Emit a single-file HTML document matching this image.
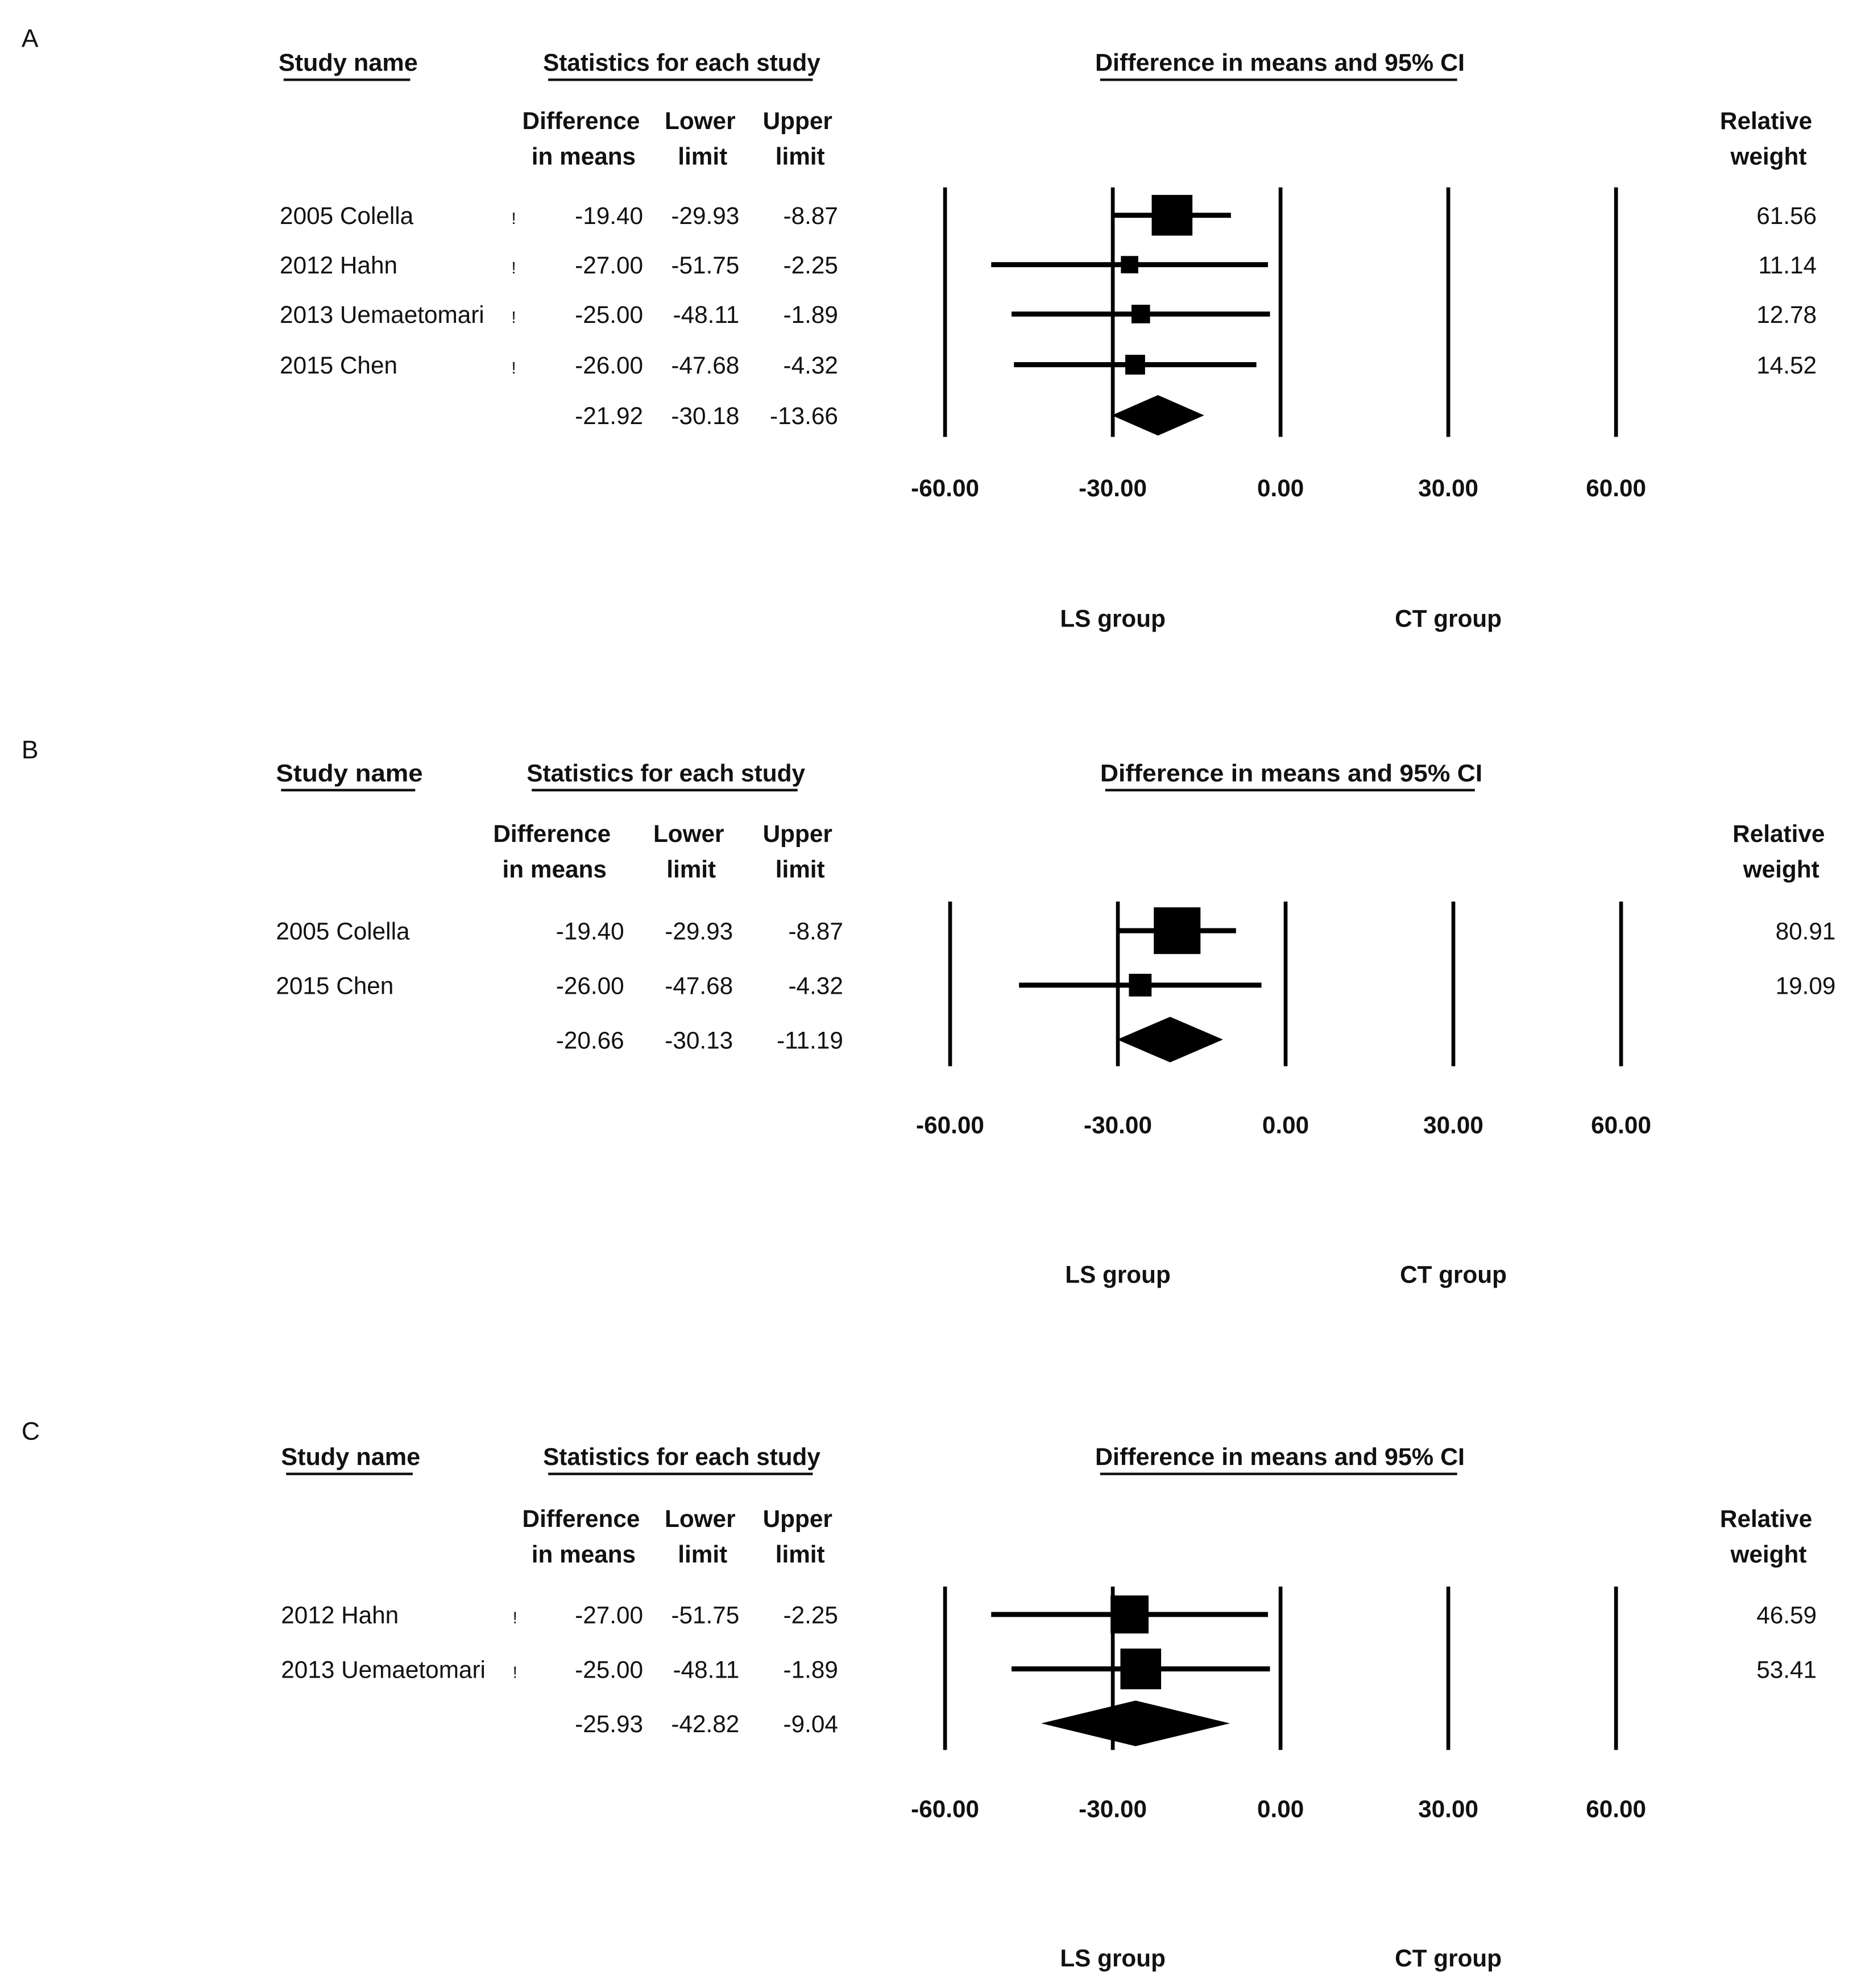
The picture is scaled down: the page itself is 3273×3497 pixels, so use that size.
<!DOCTYPE html>
<html><head><meta charset="utf-8"><style>
html,body{margin:0;padding:0;background:#fff;}
svg{display:block;}
text{font-family:"Liberation Sans",sans-serif;fill:#111;}
.b{font-weight:bold;}
</style></head><body>
<svg id="chart" width="3273" height="3497" viewBox="0 0 1470 1570" preserveAspectRatio="none" xmlns="http://www.w3.org/2000/svg"></svg>
<script>
// ---- Data ----
const panelLabels = ["A","B","C"];
const namesA = ["2005 Colella","2012 Hahn","2013 Uemaetomari","2015 Chen"];
const diffA = [-19.40,-27.00,-25.00,-26.00];
const lowerA = [-29.93,-51.75,-48.11,-47.68];
const upperA = [-8.87,-2.25,-1.89,-4.32];
const weightA = [61.56,11.14,12.78,14.52];
const summaryA = [-21.92,-30.18,-13.66];

const namesB = ["2005 Colella","2015 Chen"];
const diffB = [-19.40,-26.00];
const lowerB = [-29.93,-47.68];
const upperB = [-8.87,-4.32];
const weightB = [80.91,19.09];
const summaryB = [-20.66,-30.13,-11.19];

const namesC = ["2012 Hahn","2013 Uemaetomari"];
const diffC = [-27.00,-25.00];
const lowerC = [-51.75,-48.11];
const upperC = [-2.25,-1.89];
const weightC = [46.59,53.41];
const summaryC = [-25.93,-42.82,-9.04];

const tickValues = [-60,-30,0,30,60];
const tickLabels = ["-60.00","-30.00","0.00","30.00","60.00"];

// ---- Layout per panel (display units) ----
const layouts = [
 {letterY:37, headY:56, hdr1:102, hdr2:130, rowYs:[177,216,255,295,335], lineTop:148,lineBot:345, tickY:392, groupY:495,
  nameX:221, bang:true, diffR:508, lowR:584, upR:662, wR:1435, relX:1395, diffHx:459, lowHx:553, upHx:630,
  x0:1011.5, xs:132.5, studyX:[220,330], statX:[429,648], ciX:[865,1157], sq:4.1, dh:16},
 {letterY:599, headY:617, hdr1:665, hdr2:693, rowYs:[742,785,828], lineTop:712,lineBot:842, tickY:895, groupY:1013,
  nameX:218, bang:false, diffR:493, lowR:579, upR:666, wR:1450, relX:1405, diffHx:436, lowHx:544, upHx:630,
  x0:1015.5, xs:132.5, studyX:[218,334], statX:[416,636], ciX:[869,1171], sq:4.1, dh:18},
 {letterY:1137, headY:1157, hdr1:1206, hdr2:1234, rowYs:[1282,1325,1368], lineTop:1253,lineBot:1382, tickY:1435, groupY:1553,
  nameX:222, bang:true, diffR:508, lowR:584, upR:662, wR:1435, relX:1395, diffHx:459, lowHx:553, upHx:630,
  x0:1011.5, xs:132.5, studyX:[222,332], statX:[429,648], ciX:[865,1157], sq:4.4, dh:18}
];
const panels = [
 {names:namesA,diff:diffA,lower:lowerA,upper:upperA,weight:weightA,summary:summaryA},
 {names:namesB,diff:diffB,lower:lowerB,upper:upperB,weight:weightB,summary:summaryB},
 {names:namesC,diff:diffC,lower:lowerC,upper:upperC,weight:weightC,summary:summaryC}
];

const svg = document.getElementById('chart');
const NS = "http://www.w3.org/2000/svg";
function mk(tag, attrs, txt){
  const e = document.createElementNS(NS, tag);
  for (const k in attrs) e.setAttribute(k, attrs[k]);
  if (txt !== undefined) e.textContent = txt;
  svg.appendChild(e);
  return e;
}
function fmt(v){ return v.toFixed(2); }

panels.forEach((p, pi) => {
  const L = layouts[pi];
  const xScale = v => L.x0 + v / 30 * L.xs;
  let e;
  e = mk('text', {x:17, y:L.letterY, 'font-size':20}, panelLabels[pi]);
  
  

  const heads = [["Study name",L.studyX],["Statistics for each study",L.statX],["Difference in means and 95% CI",L.ciX]];
  heads.forEach(h => {
    e = mk('text', {x:(h[1][0]+h[1][1])/2, y:L.headY, 'font-size':19, 'text-anchor':'middle', class:'b', textLength:h[1][1]-h[1][0], lengthAdjust:'spacingAndGlyphs'}, h[0]);
    
    
    e = mk('line', {x1:h[1][0]+4, x2:h[1][1]-6, y1:L.headY+7, y2:L.headY+7, stroke:'#111', 'stroke-width':2});
    
    
  });
  const hdrs = [["Difference","in means",L.diffHx],["Lower","limit",L.lowHx],["Upper","limit",L.upHx],["Relative","weight",L.relX]];
  hdrs.forEach(h => {
    e = mk('text', {x:h[2], y:L.hdr1, 'font-size':19, 'text-anchor':'middle', class:'b'}, h[0]);
    
    
    e = mk('text', {x:h[2]+2, y:L.hdr2, 'font-size':19, 'text-anchor':'middle', class:'b'}, h[1]);
    
    
  });

  tickValues.forEach((t, ti) => {
    e = mk('line', {x1:xScale(t), x2:xScale(t), y1:L.lineTop, y2:L.lineBot, stroke:'#000', 'stroke-width':3});
    
    
    e = mk('text', {x:xScale(t), y:L.tickY, 'font-size':19, 'text-anchor':'middle', class:'b'}, tickLabels[ti]);
    
    
  });

  p.names.forEach((n, i) => {
    const y = L.rowYs[i];
    e = mk('text', {x:L.nameX, y:y, 'font-size':19}, n);
    
    
    if (L.bang) {
      e = mk('text', {x:L.nameX+183, y:y, 'font-size':13}, '!');
      
      
    }
    [[p.diff[i],L.diffR],[p.lower[i],L.lowR],[p.upper[i],L.upR]].forEach(c => {
      e = mk('text', {x:c[1], y:y, 'font-size':19, 'text-anchor':'end'}, fmt(c[0]));
      
      
    });
    e = mk('text', {x:L.wR, y:y, 'font-size':19, 'text-anchor':'end'}, fmt(p.weight[i]));
    
    
    const cy = y - 7;
    e = mk('line', {x1:xScale(p.lower[i]), x2:xScale(p.upper[i]), y1:cy, y2:cy, stroke:'#000', 'stroke-width':4});
    
    
    const s = L.sq * Math.sqrt(p.weight[i]);
    e = mk('rect', {x:xScale(p.diff[i]) - s/2, y:cy - s/2, width:s, height:s, fill:'#000'});
    
    
  });
  const sy = L.rowYs[p.names.length];
  [[p.summary[0],L.diffR],[p.summary[1],L.lowR],[p.summary[2],L.upR]].forEach(c => {
    e = mk('text', {x:c[1], y:sy, 'font-size':19, 'text-anchor':'end'}, fmt(c[0]));
    
    
  });
  const dy = sy - 7;
  const pts = [[xScale(p.summary[1]),dy],[xScale(p.summary[0]),dy-L.dh],[xScale(p.summary[2]),dy],[xScale(p.summary[0]),dy+L.dh]].map(a=>a.join(',')).join(' ');
  e = mk('polygon', {points:pts, fill:'#000'});
  
  

  e = mk('text', {x:xScale(-30), y:L.groupY, 'font-size':19, 'text-anchor':'middle', class:'b'}, 'LS group');
  
  
  e = mk('text', {x:xScale(30), y:L.groupY, 'font-size':19, 'text-anchor':'middle', class:'b'}, 'CT group');
  
  
});
</script>
</body></html>
